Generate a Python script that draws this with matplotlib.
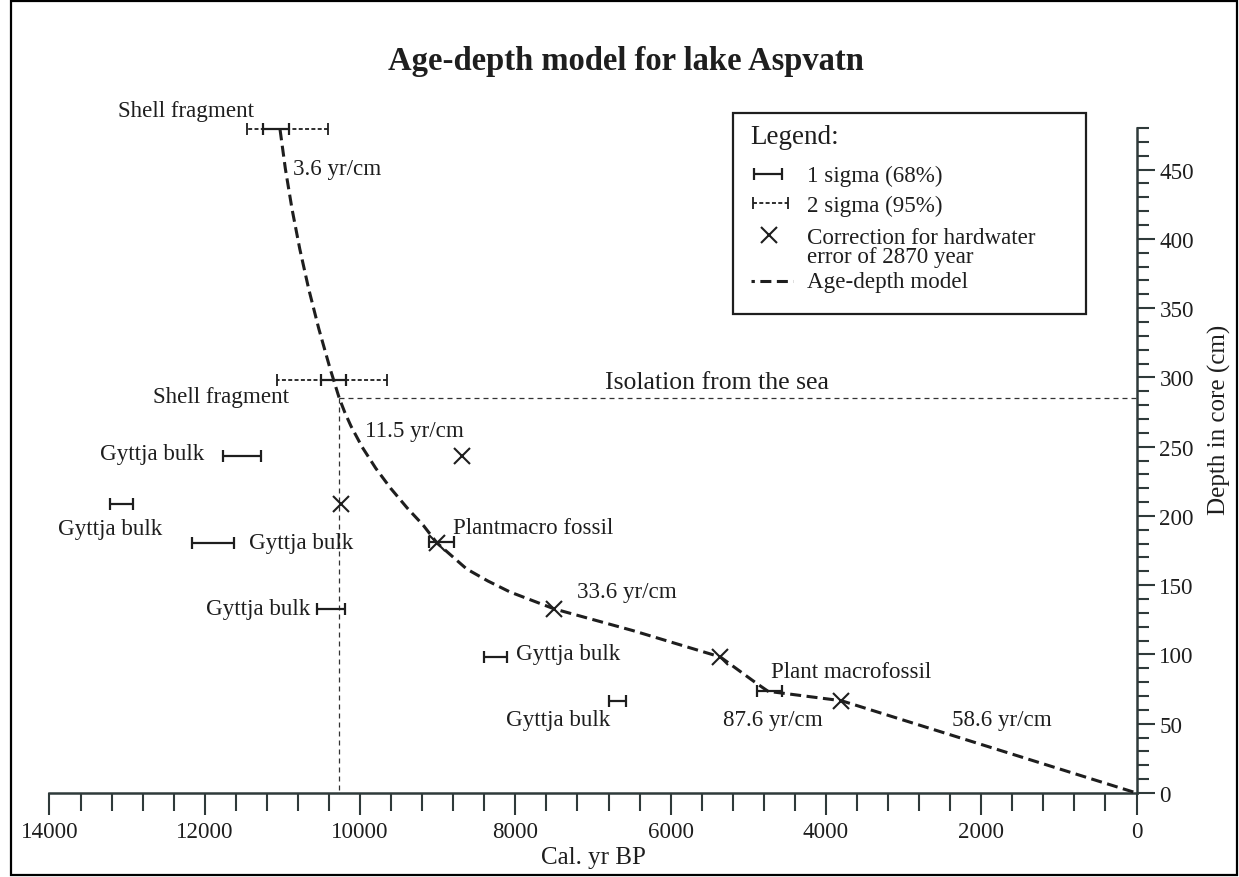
import matplotlib.pyplot as plt
from matplotlib.patches import Rectangle
from matplotlib.ticker import MultipleLocator

plt.rcParams['font.family'] = ['Liberation Serif', 'DejaVu Serif']

INK = '#1e1e1e'
AXC = '#2f3a3a'
FS = 16.6

# radiocarbon dates: depth in cm, calibrated ranges in cal. yr BP (old, young)
shell_depth = [479, 298]
shell_1s = [(11250, 10910), (10505, 10185)]
shell_2s = [(11450, 10415), (11075, 9655)]

gyttja_depth = [243.5, 208.7, 180.5, 132.9, 98.2, 66.6]
gyttja_1s = [(11770, 11280), (13220, 12920), (12170, 11625),
             (10550, 10195), (8405, 8110), (6795, 6575)]

plant_depth = [181.3, 73.4]
plant_1s = [(9115, 8790), (4890, 4570)]

# gyttja ages after the hardwater correction
corr_year = [8690, 10250, 9010, 7500, 5360, 3800]

model_year = [11031, 10962, 10877, 10777, 10662, 10531, 10385, 10268,
              10198, 10117, 9972, 9798, 9607, 9391, 9187, 9010,
              8627, 8353, 8069, 7500, 6485, 5360, 4890, 4745, 3800, 0]
model_depth = [479, 450.5, 421.7, 392.8, 363.9, 335, 306.1, 285,
               274.9, 264.8, 249.6, 234.4, 220, 205.6, 193.3, 180.5,
               161.7, 153, 145.1, 132.9, 117.2, 98.2, 79, 73.4, 66.6, 0]

isolation_year = 10268
isolation_depth = 285

rate_labels = [('3.6 yr/cm', 10868, 450.5), ('11.5 yr/cm', 9937, 261.6),
               ('33.6 yr/cm', 7210, 145.3), ('87.6 yr/cm', 5326, 52.9),
               ('58.6 yr/cm', 2376, 53.4)]

W, H = 1239, 878
fig = plt.figure(figsize=(W / 100, H / 100), dpi=100)
ax = fig.add_axes([49.5 / W, 84 / H, 1087 / W, 665 / H])
ax.set_xlim(14000, 0)
ax.set_ylim(0, 480)


def date_bar(a, lo, hi, y, dashed=False, lw=1.6):
    mid = (lo + hi) / 2
    left, right = max(lo, hi), min(lo, hi)
    eb = a.errorbar(mid, y, xerr=[[left - mid], [mid - right]], fmt='none',
                    ecolor=INK, elinewidth=lw, capsize=4.5, capthick=lw,
                    clip_on=False, zorder=3)
    if dashed:
        eb.lines[2][0].set_linestyle((0, (2.2, 1.3)))
    return eb


for d, s2, s1 in zip(shell_depth, shell_2s, shell_1s):
    date_bar(ax, s2[0], s2[1], d, dashed=True, lw=1.3)
    date_bar(ax, s1[0], s1[1], d)
for d, s1 in zip(gyttja_depth, gyttja_1s):
    date_bar(ax, s1[0], s1[1], d)
for d, s1 in zip(plant_depth, plant_1s):
    date_bar(ax, s1[0], s1[1], d)

ax.plot(corr_year, gyttja_depth, 'x', ms=11.5, mew=1.5, color=INK, zorder=4)

ax.plot(model_year, model_depth, color=INK, lw=2.2, ls=(0, (3.6, 1.8)),
        clip_on=False, zorder=5)

# isolation of the basin from the sea
iso = dict(color='#333333', lw=0.9, ls=(0, (4, 3.2)), zorder=2)
ax.plot([isolation_year, 0], [isolation_depth, isolation_depth], **iso)
ax.plot([isolation_year, isolation_year], [isolation_depth, 0], **iso)
ax.text(5403, 296.8, 'Isolation from the sea', fontsize=18.5, color=INK,
        ha='center', va='center')

txt = dict(fontsize=FS, color=INK, va='center')
ax.text(12236, 492.4, 'Shell fragment', ha='center', clip_on=False, **txt)
ax.text(10916, 285.9, 'Shell fragment', ha='right', **txt)
ax.text(12674, 244.8, 'Gyttja bulk', ha='center', **txt)
ax.text(13225, 190.6, 'Gyttja bulk', ha='center', **txt)
ax.text(11431, 180.5, 'Gyttja bulk', ha='left', **txt)
ax.text(10636, 132.9, 'Gyttja bulk', ha='right', **txt)
ax.text(7996, 100.4, 'Gyttja bulk', ha='left', **txt)
ax.text(7452, 52.9, 'Gyttja bulk', ha='center', **txt)
ax.text(8803, 191.3, 'Plantmacro fossil', ha='left', **txt)
ax.text(4712, 87.4, 'Plant macrofossil', ha='left', **txt)
for label, yr, d in rate_labels:
    ax.text(yr, d, label, ha='left', **txt)

# axes: only the bottom and right ones are drawn
for side in ('left', 'top'):
    ax.spines[side].set_visible(False)
for side in ('right', 'bottom'):
    ax.spines[side].set_color(AXC)
    ax.spines[side].set_linewidth(1.8)
ax.yaxis.tick_right()
ax.xaxis.set_major_locator(MultipleLocator(2000))
ax.xaxis.set_minor_locator(MultipleLocator(400))
ax.yaxis.set_major_locator(MultipleLocator(50))
ax.yaxis.set_minor_locator(MultipleLocator(10))
ax.set_yticks(range(0, 451, 50))
ax.tick_params(axis='x', which='major', direction='out', length=16, width=1.5,
               color=AXC, labelcolor=INK, labelsize=FS, pad=4)
ax.tick_params(axis='x', which='minor', direction='out', length=13, width=1.5,
               color=AXC)
ax.tick_params(axis='y', which='major', direction='out', length=13, width=1.5,
               color=AXC, labelcolor=INK, labelsize=FS, pad=3.5)
ax.tick_params(axis='y', which='minor', direction='out', length=8.6, width=1.5,
               color=AXC)

fig.text(593 / W, 1 - 858 / H, 'Cal. yr BP', fontsize=18, color=INK,
         ha='center', va='center')
fig.text(1219 / W, 1 - 420 / H, 'Depth in core (cm)', fontsize=18, color=INK,
         ha='center', va='center', rotation=90)
fig.text(388 / W, 1 - 70 / H, 'Age-depth model for lake Aspvatn', fontsize=23.5,
         fontweight='bold', color=INK, ha='left', va='baseline')

# legend box, laid out in pixel units
lax = fig.add_axes([733 / W, 1 - 315 / H, (1086 - 733) / W, (315 - 114) / H])
lax.set_xlim(733, 1086)
lax.set_ylim(315, 114)
lax.axis('off')
lax.add_patch(Rectangle((0, 0), 1, 1, transform=lax.transAxes, fill=False,
                        lw=1.6, ec=INK, clip_on=False))
lax.text(750, 137, 'Legend:', fontsize=19.5, color=INK, va='center')
date_bar(lax, 754, 782, 175)
lax.text(807, 176, '1 sigma (68%)', **txt)
date_bar(lax, 752.7, 788.3, 204, dashed=True, lw=1.3)
lax.text(807, 206, '2 sigma (95%)', **txt)
lax.plot([769], [236], 'x', ms=11.5, mew=1.5, color=INK)
lax.text(807, 238, 'Correction for hardwater', **txt)
lax.text(807, 257.5, 'error of 2870 year', **txt)
lax.plot([751, 793], [282, 282], color=INK, lw=2.2, ls=(2.5, (3.6, 1.8)))
lax.text(807, 283, 'Age-depth model', **txt)

fig.add_artist(Rectangle((11 / W, 2 / H), (1237 - 11) / W, (876 - 2) / H,
                         transform=fig.transFigure, fill=False, lw=1.6,
                         ec='black'))

fig.savefig('out.png', dpi=100)
